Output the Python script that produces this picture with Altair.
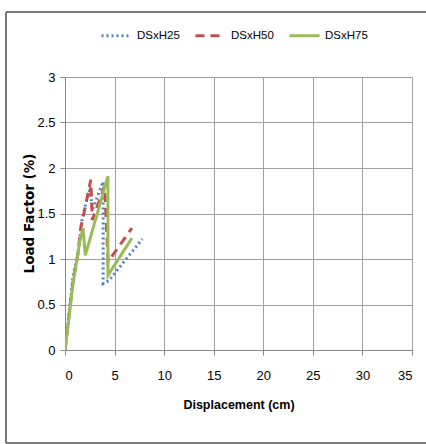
import altair as alt
import pandas as pd

# Data
h25_x = [0, 0.8, 1.35, 1.7, 2.2, 2.5, 2.8, 3.85, 3.85, 4.4, 7.8]
h25_y = [0, 0.8, 1.1, 1.42, 1.66, 1.75, 1.55, 1.85, 0.73, 0.76, 1.22]

h50_x = [0, 0.8, 1.3, 1.6, 2.0, 2.6, 2.75, 4.0, 4.35, 6.75]
h50_y = [0, 0.75, 1.05, 1.35, 1.55, 1.87, 1.43, 1.8, 0.97, 1.34]

h75_x = [0, 0.8, 1.5, 1.82, 2.05, 4.33, 4.33, 6.75]
h75_y = [0, 0.72, 1.2, 1.34, 1.04, 1.91, 0.82, 1.23]

series = ["DSxH25", "DSxH50", "DSxH75"]
colors = ["#4f81bd", "#c0504d", "#9bbb59"]
dashes = [[2, 3], [9, 6], [1, 0]]

rows = []
for name, xs, ys in zip(series, [h25_x, h50_x, h75_x], [h25_y, h50_y, h75_y]):
    for i, (x, y) in enumerate(zip(xs, ys)):
        rows.append({"series": name, "x": x, "y": y, "idx": i})
df = pd.DataFrame(rows)

FONT = "Liberation Sans"

legend_opts = dict(title=None, orient="none", direction="horizontal",
                   legendX=35, legendY=-58, symbolType="stroke",
                   symbolSize=900, symbolStrokeWidth=3,
                   labelFont=FONT, labelFontSize=11.5, labelColor="#000",
                   labelOffset=4, columnPadding=9)

lines = alt.Chart(df).mark_line(strokeWidth=3, clip=True).encode(
    x=alt.X("x:Q", scale=alt.Scale(domain=[0, 35], nice=False),
            axis=alt.Axis(values=[0, 5, 10, 15, 20, 25, 30, 35], title="Displacement (cm)",
                          titleFont=FONT, titleFontSize=12.5, titleFontWeight="bold",
                          titleColor="#000", titleY=48, titleBaseline="top",
                          labelFont=FONT, labelFontSize=13, labelColor="#000",
                          labelPadding=14, tickSize=5, tickColor="#888",
                          domainColor="#888", gridColor="#a0a0a0")),
    y=alt.Y("y:Q", scale=alt.Scale(domain=[0, 3], nice=False),
            axis=alt.Axis(values=[0, 0.5, 1, 1.5, 2, 2.5, 3], format="~g",
                          title="Load Factor (%)",
                          titleFont="DejaVu Sans", titleFontSize=13.5, titleFontWeight="bold",
                          titleColor="#000", titleX=-29, titleY=136, titleAlign="center",
                          titleBaseline="bottom", titleAngle=270,
                          labelFont=FONT, labelFontSize=13, labelColor="#000",
                          labelPadding=5, tickSize=5, tickColor="#888",
                          domainColor="#888", gridColor="#a0a0a0")),
    color=alt.Color("series:N", scale=alt.Scale(domain=series, range=colors),
                    legend=alt.Legend(**legend_opts)),
    strokeDash=alt.StrokeDash("series:N", scale=alt.Scale(domain=series, range=dashes),
                              legend=alt.Legend(**legend_opts)),
    order="idx:Q",
)

frame_df = pd.DataFrame({"k": [0]})
left = alt.Chart(frame_df).mark_rule(color="#7a7a7a", strokeWidth=2).encode(
    x=alt.value(-59), y=alt.value(-65), y2=alt.value(366))
top = alt.Chart(frame_df).mark_rule(color="#7a7a7a", strokeWidth=2).encode(
    x=alt.value(-59), x2=alt.value(372), y=alt.value(-65))
bottom = alt.Chart(frame_df).mark_rule(color="#7a7a7a", strokeWidth=2).encode(
    x=alt.value(-59), x2=alt.value(372), y=alt.value(366))

chart = alt.layer(left, top, bottom, lines).properties(
    width=347, height=273,
    padding={"left": 65, "top": 77, "right": 14, "bottom": 94},
    autosize=alt.AutoSizeParams(type="none"),
    background="white",
).configure_view(stroke=None)

chart.save("out.html", embed_options={"renderer": "svg", "actions": False})
